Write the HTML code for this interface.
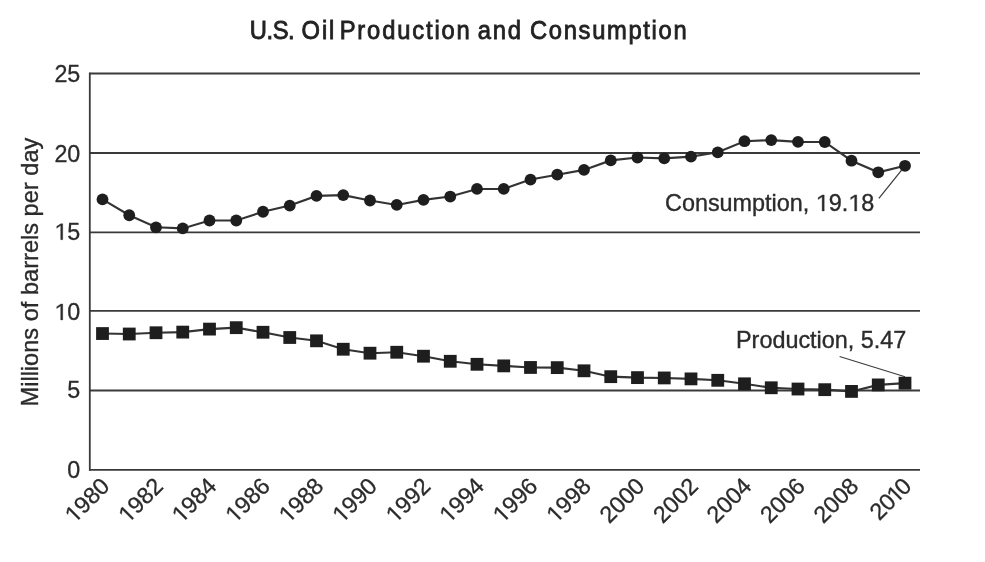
<!DOCTYPE html>
<html><head><meta charset="utf-8"><style>
html,body{margin:0;padding:0;background:#fff;}
svg{display:block;will-change:transform;filter:blur(0.35px);}
.t{font-family:"Liberation Sans",sans-serif;font-size:23.3px;fill:#2b2b2b;stroke:#2b2b2b;stroke-width:0.3px;}
.a{font-family:"Liberation Sans",sans-serif;font-size:23.4px;fill:#2b2b2b;stroke:#2b2b2b;stroke-width:0.35px;}
.yl{font-size:23.6px;}
.title{font-family:"Liberation Sans",sans-serif;font-size:26.4px;fill:#222;stroke:#222;stroke-width:0.85px;}
</style></head><body>
<svg width="985" height="562" viewBox="0 0 985 562">
<rect width="985" height="562" fill="#fff"/>
<line x1="89.00" y1="469.90" x2="920.00" y2="469.90" stroke="#3a3a3a" stroke-width="1.8"/>
<line x1="89.00" y1="390.50" x2="920.00" y2="390.50" stroke="#3a3a3a" stroke-width="1.8"/>
<line x1="89.00" y1="310.80" x2="920.00" y2="310.80" stroke="#3a3a3a" stroke-width="1.8"/>
<line x1="89.00" y1="232.40" x2="920.00" y2="232.40" stroke="#3a3a3a" stroke-width="1.8"/>
<line x1="89.00" y1="153.00" x2="920.00" y2="153.00" stroke="#3a3a3a" stroke-width="1.8"/>
<line x1="89.00" y1="73.50" x2="920.00" y2="73.50" stroke="#3a3a3a" stroke-width="1.8"/>
<line x1="89.80" y1="72.70" x2="89.80" y2="470.70" stroke="#3a3a3a" stroke-width="1.8"/>
<text x="80.30" y="477.50" text-anchor="end" class="t">0</text>
<text x="80.30" y="397.60" text-anchor="end" class="t">5</text>
<text id="n0" x="80.30" y="320.00" text-anchor="end" class="t">&#8199;0</text>
<path d="M553,0L553,1237L207,1000L207,1172L568,1409L736,1409L736,0Z" transform="translate(54.378 320.000) scale(0.01138 -0.01138)" fill="#2b2b2b" stroke="#2b2b2b" stroke-width="26.37"/>
<text id="n1" x="80.30" y="239.70" text-anchor="end" class="t">&#8199;5</text>
<path d="M553,0L553,1237L207,1000L207,1172L568,1409L736,1409L736,0Z" transform="translate(54.378 239.700) scale(0.01138 -0.01138)" fill="#2b2b2b" stroke="#2b2b2b" stroke-width="26.37"/>
<text x="80.30" y="161.90" text-anchor="end" class="t">20</text>
<text x="80.30" y="82.00" text-anchor="end" class="t">25</text>
<text id="n2" x="111.00" y="487.50" text-anchor="end" class="t" transform="rotate(-45 111.00 487.50)">&#8199;980</text>
<g transform="rotate(-45 111.00 487.50)"><path d="M553,0L553,1237L207,1000L207,1172L568,1409L736,1409L736,0Z" transform="translate(59.172 487.500) scale(0.01138 -0.01138)" fill="#2b2b2b" stroke="#2b2b2b" stroke-width="26.37"/></g>
<text id="n3" x="164.50" y="487.50" text-anchor="end" class="t" transform="rotate(-45 164.50 487.50)">&#8199;982</text>
<g transform="rotate(-45 164.50 487.50)"><path d="M553,0L553,1237L207,1000L207,1172L568,1409L736,1409L736,0Z" transform="translate(112.672 487.500) scale(0.01138 -0.01138)" fill="#2b2b2b" stroke="#2b2b2b" stroke-width="26.37"/></g>
<text id="n4" x="218.00" y="487.50" text-anchor="end" class="t" transform="rotate(-45 218.00 487.50)">&#8199;984</text>
<g transform="rotate(-45 218.00 487.50)"><path d="M553,0L553,1237L207,1000L207,1172L568,1409L736,1409L736,0Z" transform="translate(166.172 487.500) scale(0.01138 -0.01138)" fill="#2b2b2b" stroke="#2b2b2b" stroke-width="26.37"/></g>
<text id="n5" x="271.50" y="487.50" text-anchor="end" class="t" transform="rotate(-45 271.50 487.50)">&#8199;986</text>
<g transform="rotate(-45 271.50 487.50)"><path d="M553,0L553,1237L207,1000L207,1172L568,1409L736,1409L736,0Z" transform="translate(219.672 487.500) scale(0.01138 -0.01138)" fill="#2b2b2b" stroke="#2b2b2b" stroke-width="26.37"/></g>
<text id="n6" x="325.00" y="487.50" text-anchor="end" class="t" transform="rotate(-45 325.00 487.50)">&#8199;988</text>
<g transform="rotate(-45 325.00 487.50)"><path d="M553,0L553,1237L207,1000L207,1172L568,1409L736,1409L736,0Z" transform="translate(273.172 487.500) scale(0.01138 -0.01138)" fill="#2b2b2b" stroke="#2b2b2b" stroke-width="26.37"/></g>
<text id="n7" x="378.50" y="487.50" text-anchor="end" class="t" transform="rotate(-45 378.50 487.50)">&#8199;990</text>
<g transform="rotate(-45 378.50 487.50)"><path d="M553,0L553,1237L207,1000L207,1172L568,1409L736,1409L736,0Z" transform="translate(326.672 487.500) scale(0.01138 -0.01138)" fill="#2b2b2b" stroke="#2b2b2b" stroke-width="26.37"/></g>
<text id="n8" x="432.00" y="487.50" text-anchor="end" class="t" transform="rotate(-45 432.00 487.50)">&#8199;992</text>
<g transform="rotate(-45 432.00 487.50)"><path d="M553,0L553,1237L207,1000L207,1172L568,1409L736,1409L736,0Z" transform="translate(380.172 487.500) scale(0.01138 -0.01138)" fill="#2b2b2b" stroke="#2b2b2b" stroke-width="26.37"/></g>
<text id="n9" x="485.50" y="487.50" text-anchor="end" class="t" transform="rotate(-45 485.50 487.50)">&#8199;994</text>
<g transform="rotate(-45 485.50 487.50)"><path d="M553,0L553,1237L207,1000L207,1172L568,1409L736,1409L736,0Z" transform="translate(433.672 487.500) scale(0.01138 -0.01138)" fill="#2b2b2b" stroke="#2b2b2b" stroke-width="26.37"/></g>
<text id="n10" x="539.00" y="487.50" text-anchor="end" class="t" transform="rotate(-45 539.00 487.50)">&#8199;996</text>
<g transform="rotate(-45 539.00 487.50)"><path d="M553,0L553,1237L207,1000L207,1172L568,1409L736,1409L736,0Z" transform="translate(487.172 487.500) scale(0.01138 -0.01138)" fill="#2b2b2b" stroke="#2b2b2b" stroke-width="26.37"/></g>
<text id="n11" x="592.50" y="487.50" text-anchor="end" class="t" transform="rotate(-45 592.50 487.50)">&#8199;998</text>
<g transform="rotate(-45 592.50 487.50)"><path d="M553,0L553,1237L207,1000L207,1172L568,1409L736,1409L736,0Z" transform="translate(540.672 487.500) scale(0.01138 -0.01138)" fill="#2b2b2b" stroke="#2b2b2b" stroke-width="26.37"/></g>
<text x="646.00" y="487.50" text-anchor="end" class="t" transform="rotate(-45 646.00 487.50)">2000</text>
<text x="699.50" y="487.50" text-anchor="end" class="t" transform="rotate(-45 699.50 487.50)">2002</text>
<text x="753.00" y="487.50" text-anchor="end" class="t" transform="rotate(-45 753.00 487.50)">2004</text>
<text x="806.50" y="487.50" text-anchor="end" class="t" transform="rotate(-45 806.50 487.50)">2006</text>
<text x="860.00" y="487.50" text-anchor="end" class="t" transform="rotate(-45 860.00 487.50)">2008</text>
<text id="n12" x="913.00" y="487.50" text-anchor="end" class="t" transform="rotate(-45 913.00 487.50)" dx="0 0 -2 -2">20&#8199;0</text>
<g transform="rotate(-45 913.00 487.50)"><path d="M553,0L553,1237L207,1000L207,1172L568,1409L736,1409L736,0Z" transform="translate(889.062 487.500) scale(0.01138 -0.01138)" fill="#2b2b2b" stroke="#2b2b2b" stroke-width="26.37"/></g>
<line x1="878.9" y1="198.4" x2="905.00" y2="165.78" stroke="#3c3c3c" stroke-width="1.25"/>
<line x1="839.6" y1="356.5" x2="905.00" y2="376.77" stroke="#3c3c3c" stroke-width="1.25"/>
<polyline points="102.50,199.40 129.25,215.25 156.00,227.30 182.75,228.41 209.50,220.49 236.25,220.49 263.00,211.76 289.75,205.58 316.50,195.91 343.25,195.12 370.00,200.51 396.75,204.95 423.50,199.87 450.25,196.54 477.00,188.93 503.75,188.93 530.50,179.58 557.25,174.66 584.00,169.90 610.75,160.39 637.50,157.54 664.25,158.33 691.00,156.59 717.75,152.30 744.50,141.21 771.25,140.10 798.00,141.84 824.75,142.00 851.50,160.71 878.25,172.28 905.00,165.78" fill="none" stroke="#333" stroke-width="2.1"/>
<polyline points="102.50,333.54 129.25,334.01 156.00,332.75 182.75,332.11 209.50,329.10 236.25,327.67 263.00,332.27 289.75,337.50 316.50,340.83 343.25,349.24 370.00,353.20 396.75,352.25 423.50,356.21 450.25,361.29 477.00,364.30 503.75,365.88 530.50,367.47 557.25,367.63 584.00,370.80 610.75,376.67 637.50,377.62 664.25,377.94 691.00,378.89 717.75,380.31 744.50,383.80 771.25,387.77 798.00,389.03 824.75,389.67 851.50,391.41 878.25,384.91 905.00,383.17" fill="none" stroke="#333" stroke-width="2.1"/>
<circle cx="102.50" cy="199.40" r="5.9" fill="#1e1e1e"/>
<circle cx="129.25" cy="215.25" r="5.9" fill="#1e1e1e"/>
<circle cx="156.00" cy="227.30" r="5.9" fill="#1e1e1e"/>
<circle cx="182.75" cy="228.41" r="5.9" fill="#1e1e1e"/>
<circle cx="209.50" cy="220.49" r="5.9" fill="#1e1e1e"/>
<circle cx="236.25" cy="220.49" r="5.9" fill="#1e1e1e"/>
<circle cx="263.00" cy="211.76" r="5.9" fill="#1e1e1e"/>
<circle cx="289.75" cy="205.58" r="5.9" fill="#1e1e1e"/>
<circle cx="316.50" cy="195.91" r="5.9" fill="#1e1e1e"/>
<circle cx="343.25" cy="195.12" r="5.9" fill="#1e1e1e"/>
<circle cx="370.00" cy="200.51" r="5.9" fill="#1e1e1e"/>
<circle cx="396.75" cy="204.95" r="5.9" fill="#1e1e1e"/>
<circle cx="423.50" cy="199.87" r="5.9" fill="#1e1e1e"/>
<circle cx="450.25" cy="196.54" r="5.9" fill="#1e1e1e"/>
<circle cx="477.00" cy="188.93" r="5.9" fill="#1e1e1e"/>
<circle cx="503.75" cy="188.93" r="5.9" fill="#1e1e1e"/>
<circle cx="530.50" cy="179.58" r="5.9" fill="#1e1e1e"/>
<circle cx="557.25" cy="174.66" r="5.9" fill="#1e1e1e"/>
<circle cx="584.00" cy="169.90" r="5.9" fill="#1e1e1e"/>
<circle cx="610.75" cy="160.39" r="5.9" fill="#1e1e1e"/>
<circle cx="637.50" cy="157.54" r="5.9" fill="#1e1e1e"/>
<circle cx="664.25" cy="158.33" r="5.9" fill="#1e1e1e"/>
<circle cx="691.00" cy="156.59" r="5.9" fill="#1e1e1e"/>
<circle cx="717.75" cy="152.30" r="5.9" fill="#1e1e1e"/>
<circle cx="744.50" cy="141.21" r="5.9" fill="#1e1e1e"/>
<circle cx="771.25" cy="140.10" r="5.9" fill="#1e1e1e"/>
<circle cx="798.00" cy="141.84" r="5.9" fill="#1e1e1e"/>
<circle cx="824.75" cy="142.00" r="5.9" fill="#1e1e1e"/>
<circle cx="851.50" cy="160.71" r="5.9" fill="#1e1e1e"/>
<circle cx="878.25" cy="172.28" r="5.9" fill="#1e1e1e"/>
<circle cx="905.00" cy="165.78" r="5.9" fill="#1e1e1e"/>
<rect x="96.10" y="327.14" width="12.8" height="12.8" fill="#1e1e1e"/>
<rect x="122.85" y="327.61" width="12.8" height="12.8" fill="#1e1e1e"/>
<rect x="149.60" y="326.35" width="12.8" height="12.8" fill="#1e1e1e"/>
<rect x="176.35" y="325.71" width="12.8" height="12.8" fill="#1e1e1e"/>
<rect x="203.10" y="322.70" width="12.8" height="12.8" fill="#1e1e1e"/>
<rect x="229.85" y="321.27" width="12.8" height="12.8" fill="#1e1e1e"/>
<rect x="256.60" y="325.87" width="12.8" height="12.8" fill="#1e1e1e"/>
<rect x="283.35" y="331.10" width="12.8" height="12.8" fill="#1e1e1e"/>
<rect x="310.10" y="334.43" width="12.8" height="12.8" fill="#1e1e1e"/>
<rect x="336.85" y="342.84" width="12.8" height="12.8" fill="#1e1e1e"/>
<rect x="363.60" y="346.80" width="12.8" height="12.8" fill="#1e1e1e"/>
<rect x="390.35" y="345.85" width="12.8" height="12.8" fill="#1e1e1e"/>
<rect x="417.10" y="349.81" width="12.8" height="12.8" fill="#1e1e1e"/>
<rect x="443.85" y="354.89" width="12.8" height="12.8" fill="#1e1e1e"/>
<rect x="470.60" y="357.90" width="12.8" height="12.8" fill="#1e1e1e"/>
<rect x="497.35" y="359.48" width="12.8" height="12.8" fill="#1e1e1e"/>
<rect x="524.10" y="361.07" width="12.8" height="12.8" fill="#1e1e1e"/>
<rect x="550.85" y="361.23" width="12.8" height="12.8" fill="#1e1e1e"/>
<rect x="577.60" y="364.40" width="12.8" height="12.8" fill="#1e1e1e"/>
<rect x="604.35" y="370.27" width="12.8" height="12.8" fill="#1e1e1e"/>
<rect x="631.10" y="371.22" width="12.8" height="12.8" fill="#1e1e1e"/>
<rect x="657.85" y="371.54" width="12.8" height="12.8" fill="#1e1e1e"/>
<rect x="684.60" y="372.49" width="12.8" height="12.8" fill="#1e1e1e"/>
<rect x="711.35" y="373.91" width="12.8" height="12.8" fill="#1e1e1e"/>
<rect x="738.10" y="377.40" width="12.8" height="12.8" fill="#1e1e1e"/>
<rect x="764.85" y="381.37" width="12.8" height="12.8" fill="#1e1e1e"/>
<rect x="791.60" y="382.63" width="12.8" height="12.8" fill="#1e1e1e"/>
<rect x="818.35" y="383.27" width="12.8" height="12.8" fill="#1e1e1e"/>
<rect x="845.10" y="385.01" width="12.8" height="12.8" fill="#1e1e1e"/>
<rect x="871.85" y="378.51" width="12.8" height="12.8" fill="#1e1e1e"/>
<rect x="898.60" y="376.77" width="12.8" height="12.8" fill="#1e1e1e"/>
<text id="n13" x="665.00" y="211.00" text-anchor="start" class="a">Consumption, &#8199;9.&#8199;8</text>
<path d="M553,0L553,1237L207,1000L207,1172L568,1409L736,1409L736,0Z" transform="translate(815.812 211.000) scale(0.01143 -0.01143)" fill="#2b2b2b" stroke="#2b2b2b" stroke-width="30.63"/><path d="M553,0L553,1237L207,1000L207,1172L568,1409L736,1409L736,0Z" transform="translate(848.328 211.000) scale(0.01143 -0.01143)" fill="#2b2b2b" stroke="#2b2b2b" stroke-width="30.63"/>
<text x="736" y="347.5" class="a">Production, 5.47</text>
<text x="0" y="0" class="a yl" text-anchor="middle" transform="translate(37.8 272.1) rotate(-90)">Millions of barrels per day</text>
<text x="0" y="0" class="title" textLength="50.00" lengthAdjust="spacing" transform="translate(249.70 38.9) scale(0.9 1)">U.S.</text>
<text x="0" y="0" class="title" textLength="36.50" lengthAdjust="spacing" transform="translate(301.52 38.9) scale(0.9 1)">Oil</text>
<text x="0" y="0" class="title" textLength="144.50" lengthAdjust="spacing" transform="translate(339.71 38.9) scale(0.9 1)">Production</text>
<text x="0" y="0" class="title" textLength="48.00" lengthAdjust="spacing" transform="translate(477.81 38.9) scale(0.9 1)">and</text>
<text x="0" y="0" class="title" textLength="174.00" lengthAdjust="spacing" transform="translate(530.03 38.9) scale(0.9 1)">Consumption</text>
</svg>
</body></html>
